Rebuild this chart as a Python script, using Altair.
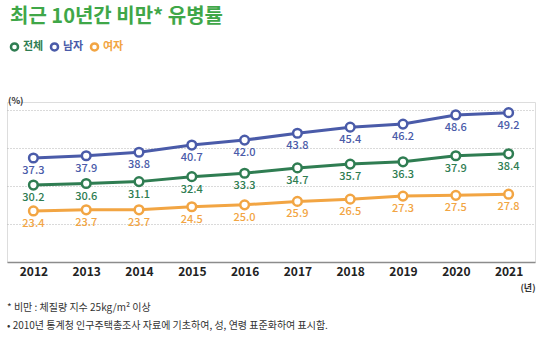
import altair as alt
import pandas as pd

years = [2012, 2013, 2014, 2015, 2016, 2017, 2018, 2019, 2020, 2021]
series_names = ["전체", "남자", "여자"]
total = [30.2, 30.6, 31.1, 32.4, 33.3, 34.7, 35.7, 36.3, 37.9, 38.4]
male = [37.3, 37.9, 38.8, 40.7, 42.0, 43.8, 45.4, 46.2, 48.6, 49.2]
female = [23.4, 23.7, 23.7, 24.5, 25.0, 25.9, 26.5, 27.3, 27.5, 27.8]
colors = ["#2f7d52", "#4a5ba9", "#f2a543"]

title_text = "최근 10년간 비만* 유병률"
note1 = "* 비만 : 체질량 지수 25kg/m² 이상"
note2 = "• 2010년 통계청 인구주택총조사 자료에 기초하여, 성, 연령 표준화하여 표시함."

rows = []
for name, vals in zip(series_names, [total, male, female]):
    for y, v in zip(years, vals):
        rows.append({"year": str(y), "value": v, "series": name, "label": f"{v:.1f}"})
df = pd.DataFrame(rows)

FONT = "Noto Sans CJK KR"

label_color_expr = (f"datum.value == '{series_names[0]}' ? '{colors[0]}' : "
                    f"datum.value == '{series_names[1]}' ? '{colors[1]}' : '{colors[2]}'")

x = alt.X("year:O", scale=alt.Scale(type="point", padding=0.5),
          axis=alt.Axis(title=None, labelAngle=0, labelFont=FONT, labelFontSize=12,
                        labelFontWeight="bold", labelColor="#222222", labelPadding=4,
                        ticks=False, domainColor="#8c8c8c", domainWidth=1.5, grid=False))
y = alt.Y("value:Q", scale=alt.Scale(domain=[10, 52], nice=False, zero=False),
          axis=alt.Axis(title=None, labels=False, ticks=False, domain=False,
                        values=[20, 30, 40, 50], grid=True, gridColor="#b5b5b5",
                        gridDash=[1, 2], gridWidth=1))
color = alt.Color("series:N", scale=alt.Scale(domain=series_names, range=colors),
                  legend=alt.Legend(title=None, orient="none", legendX=2, legendY=-61,
                                    direction="horizontal", symbolType="circle",
                                    symbolSize=50, symbolStrokeWidth=2.5,
                                    symbolFillColor="white", labelFont=FONT,
                                    labelFontSize=11, labelFontWeight="bold",
                                    columnPadding=1, symbolOffset=0, labelOffset=3,
                                    labelColor={"expr": label_color_expr}))

base = alt.Chart(df)
lines = base.mark_line(strokeWidth=3).encode(x=x, y=y, color=color)
points = base.mark_point(filled=True, fill="white", size=75, strokeWidth=2.5, opacity=1).encode(
    x="year:O", y="value:Q", stroke=alt.Stroke("series:N", scale=alt.Scale(domain=series_names, range=colors), legend=None))
labels = base.mark_text(font=FONT, fontSize=11, fontWeight=500, dy=13, baseline="middle").encode(
    x="year:O", y="value:Q", text="label:N",
    color=alt.Color("series:N", scale=alt.Scale(domain=series_names, range=colors), legend=None))

ann = pd.DataFrame({"t": [title_text]})
title = alt.Chart(ann).mark_text(font=FONT, fontSize=20, fontWeight="bold", color="#3fa748",
                                 align="left", baseline="middle").encode(
    text="t:N", x=alt.value(3), y=alt.value(-85))
n1 = alt.Chart(pd.DataFrame({"t": [note1]})).mark_text(font=FONT, fontSize=10, color="#333333",
                                                        align="left", baseline="middle").encode(
    text="t:N", x=alt.value(0), y=alt.value(206))
n2 = alt.Chart(pd.DataFrame({"t": [note2]})).mark_text(font=FONT, fontSize=10, color="#333333",
                                                        align="left", baseline="middle").encode(
    text="t:N", x=alt.value(0), y=alt.value(224))
pct = alt.Chart(pd.DataFrame({"t": ["(%)"]})).mark_text(font=FONT, fontSize=9, fontWeight="bold",
                                                         color="#333333", align="left", baseline="middle").encode(
    text="t:N", x=alt.value(1), y=alt.value(-1))
yr = alt.Chart(pd.DataFrame({"t": ["(년)"]})).mark_text(font=FONT, fontSize=9, fontWeight="bold",
                                                         color="#333333", align="center", baseline="middle").encode(
    text="t:N", x=alt.value(521), y=alt.value(186))

chart = alt.layer(lines, points, labels, title, n1, n2, pct, yr).resolve_scale(
    color="independent").properties(
    width=528, height=160,
    autosize=alt.AutoSizeParams(type="none"),
    padding={"left": 7, "top": 102, "right": 13, "bottom": 92},
).configure_view(stroke=None).configure(background="white")

chart.save("out.html", embed_options={"renderer": "svg", "actions": False})
